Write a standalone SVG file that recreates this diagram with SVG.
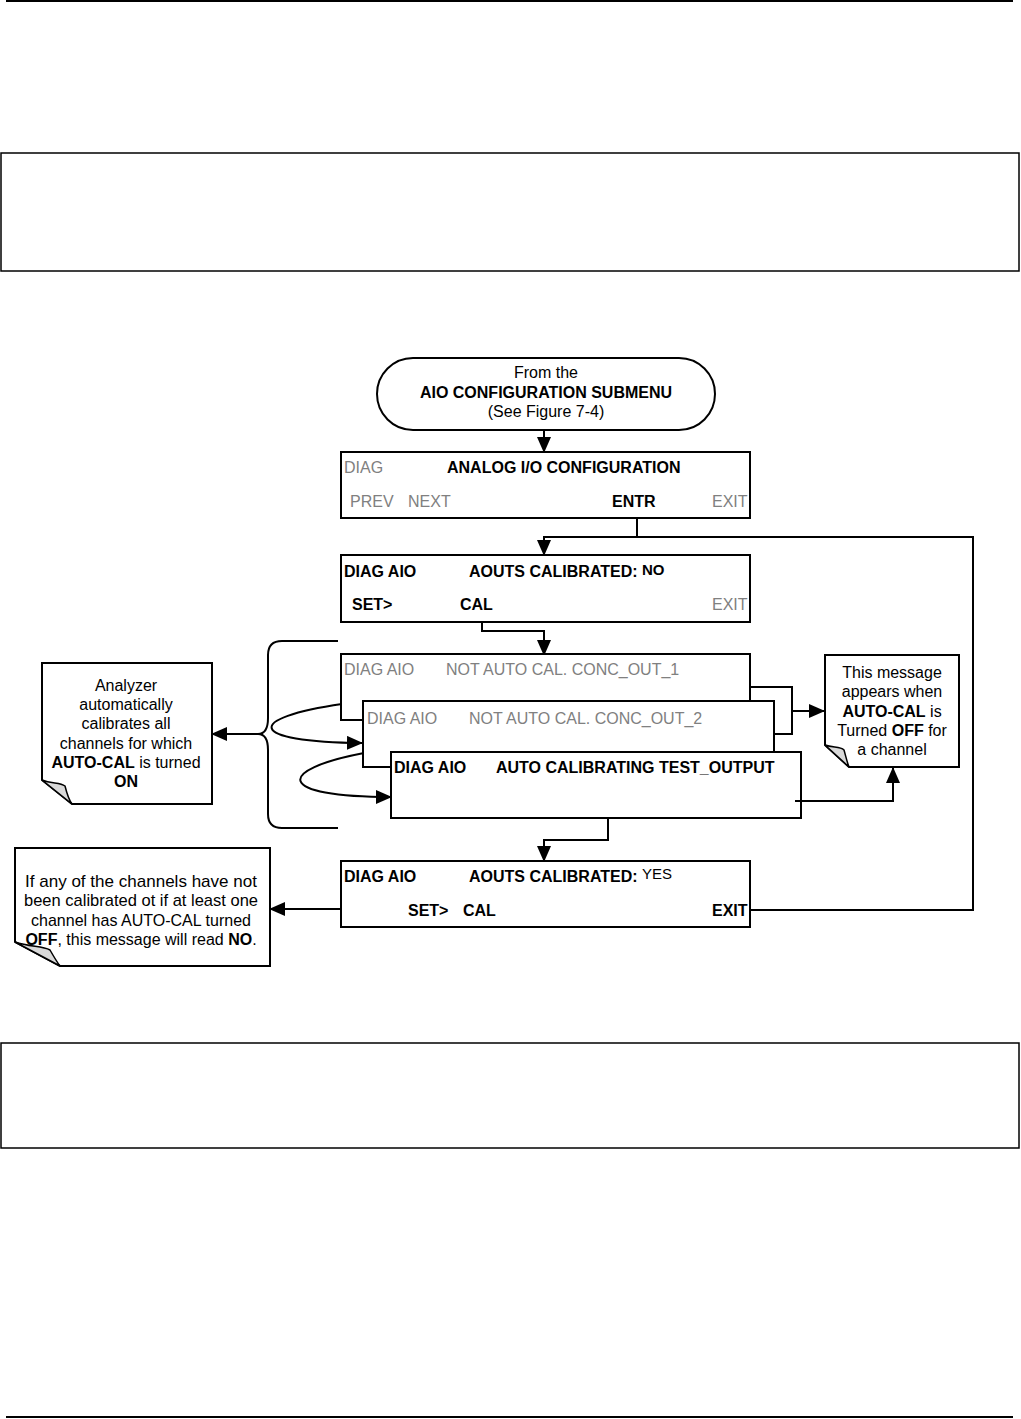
<svg xmlns="http://www.w3.org/2000/svg" width="1021" height="1419" viewBox="0 0 1021 1419">
<style>
.bx{fill:#fff;stroke:#000;stroke-width:2}
.ln{fill:none;stroke:#000;stroke-width:2}
.t{font-family:"Liberation Sans",Arial,sans-serif;font-size:16px;fill:#000}
.b{font-weight:bold}
.g{fill:#808080}
.c{text-anchor:middle}
.n17{font-size:17px}
.fold{fill:#d9d9d9;stroke:#000;stroke-width:1.5}
</style>
<defs>
<marker id="ah" markerUnits="userSpaceOnUse" markerWidth="16" markerHeight="14" refX="15" refY="7" orient="auto">
<path d="M0,0 L16,7 L0,14 z" fill="#000"/>
</marker>
</defs>
<rect width="1021" height="1419" fill="#fff"/>
<line x1="6" y1="1" x2="1013" y2="1" stroke="#000" stroke-width="2"/>
<rect x="1" y="153" width="1018" height="118" fill="none" stroke="#000" stroke-width="1.5"/>
<rect x="1" y="1043" width="1018" height="105" fill="none" stroke="#000" stroke-width="1.5"/>
<line x1="6" y1="1417" x2="1013" y2="1417" stroke="#000" stroke-width="2"/>

<g id="connectors">
<path class="ln" d="M544,430 V452" marker-end="url(#ah)"/>
<path class="ln" d="M637,518 V537"/>
<path class="ln" d="M749,910 H973 V537 H544 V555" marker-end="url(#ah)"/>
<path class="ln" d="M482,622 V631 H544 V655" marker-end="url(#ah)"/>
<path class="ln" d="M750,687 H792 V734 H774"/>
<path class="ln" d="M792,711 H824" marker-end="url(#ah)"/>
<path class="ln" d="M795,801 H893 V768" marker-end="url(#ah)"/>
<path class="ln" d="M608,818 V840 H544 V861" marker-end="url(#ah)"/>
<path class="ln" d="M345,909 H270" marker-end="url(#ah)"/>
<path class="ln" d="M260,734 H212" marker-end="url(#ah)"/>
<path class="ln" d="M338,641 H282 Q268,641 268,655 V718 Q268,734 258,734 Q268,734 268,750 V814 Q268,828 282,828 H338"/>
<path class="ln" d="M342,704 C245,718 245,742 362,743" marker-end="url(#ah)"/>
<path class="ln" d="M364,753 C275,770 275,797 391,797" marker-end="url(#ah)"/>
</g>

<g id="start">
<rect class="bx" x="377" y="358" width="338" height="72" rx="36"/>
<text class="t c" x="546" y="378">From the</text>
<text class="t c b" x="546" y="398">AIO CONFIGURATION SUBMENU</text>
<text class="t c" x="546" y="417">(See Figure 7-4)</text>
</g>

<g id="analog-io">
<rect class="bx" x="341" y="452" width="409" height="66"/>
<text class="t g" x="344" y="473">DIAG</text>
<text class="t b" x="447" y="473">ANALOG I/O CONFIGURATION</text>
<text class="t g" x="350" y="507">PREV</text>
<text class="t g" x="408" y="507">NEXT</text>
<text class="t b" x="612" y="507">ENTR</text>
<text class="t g" x="712" y="507">EXIT</text>
</g>

<g id="aouts-no">
<rect class="bx" x="341" y="555" width="409" height="67"/>
<text class="t b" x="344" y="577">DIAG AIO</text>
<text class="t b" x="469" y="577">AOUTS CALIBRATED: <tspan font-size="15" dy="-2">NO</tspan></text>
<text class="t b" x="352" y="610">SET&gt;</text>
<text class="t b" x="460" y="610">CAL</text>
<text class="t g" x="712" y="610">EXIT</text>
</g>

<g id="not-auto-1">
<rect class="bx" x="341" y="654" width="409" height="66"/>
<text class="t g" x="344" y="675">DIAG AIO</text>
<text class="t g" x="446" y="675">NOT AUTO CAL. CONC_OUT_1</text>
</g>

<g id="not-auto-2">
<rect class="bx" x="363" y="701" width="411" height="66"/>
<text class="t g" x="367" y="724">DIAG AIO</text>
<text class="t g" x="469" y="724">NOT AUTO CAL. CONC_OUT_2</text>
</g>

<g id="auto-calibrating">
<rect class="bx" x="391" y="752" width="410" height="66"/>
<text class="t b" x="394" y="773">DIAG AIO</text>
<text class="t b" x="496" y="773">AUTO CALIBRATING TEST_OUTPUT</text>
<line x1="795" y1="801" x2="801" y2="801" stroke="#000" stroke-width="2"/>
</g>

<g id="aouts-yes">
<rect class="bx" x="341" y="861" width="409" height="66"/>
<text class="t b" x="344" y="882">DIAG AIO</text>
<text class="t b" x="469" y="882">AOUTS CALIBRATED: <tspan font-weight="normal" font-size="15" dy="-3">YES</tspan></text>
<text class="t b" x="408" y="916">SET&gt;</text>
<text class="t b" x="463" y="916">CAL</text>
<text class="t b" x="712" y="916">EXIT</text>
</g>

<g id="note-auto-on">
<path class="bx" d="M42,663 H212 V804 H72 L42,780 Z"/>
<path class="fold" d="M42,780 C52,784 60,782 65,786 C67,794 69,800 72,804 Z"/>
<text class="t c" x="126" y="691">Analyzer</text>
<text class="t c" x="126" y="710">automatically</text>
<text class="t c" x="126" y="729">calibrates all</text>
<text class="t c" x="126" y="749">channels for which</text>
<text class="t c" x="126" y="768"><tspan font-weight="bold">AUTO-CAL</tspan> is turned</text>
<text class="t c b" x="126" y="787">ON</text>
</g>

<g id="note-auto-off">
<path class="bx" d="M825,655 H959 V767 H849 L825,745 Z"/>
<path class="fold" d="M825,745 C833,748 840,746 844,750 C846,757 847,762 849,767 Z"/>
<text class="t c" x="892" y="678">This message</text>
<text class="t c" x="892" y="697">appears when</text>
<text class="t c" x="892" y="717"><tspan font-weight="bold">AUTO-CAL</tspan> is</text>
<text class="t c" x="892" y="736">Turned <tspan font-weight="bold">OFF</tspan> for</text>
<text class="t c" x="892" y="755">a channel</text>
</g>

<g id="note-read-no">
<path class="bx" d="M15,848 H270 V966 H60 L15,942 Z"/>
<path class="fold" d="M15,942 C30,947 42,946 50,950 C54,957 57,962 60,966 Z"/>
<text class="t c n17" x="141" y="887" textLength="232" lengthAdjust="spacingAndGlyphs">If any of the channels have not</text>
<text class="t c n17" x="141" y="906" textLength="234" lengthAdjust="spacingAndGlyphs">been calibrated ot if at least one</text>
<text class="t c n17" x="141" y="926" textLength="220" lengthAdjust="spacingAndGlyphs">channel has AUTO-CAL turned</text>
<text class="t c" x="141" y="945"><tspan font-weight="bold">OFF</tspan>, this message will read <tspan font-weight="bold">NO</tspan>.</text>
</g>
</svg>
